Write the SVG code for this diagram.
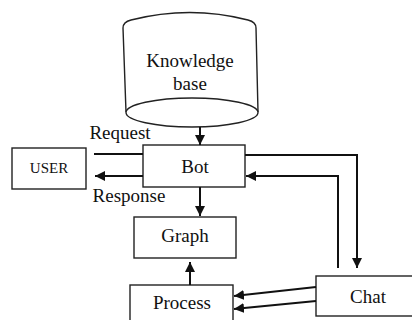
<svg xmlns="http://www.w3.org/2000/svg" width="412" height="320" viewBox="0 0 412 320">
<style>
.box{fill:#fff;stroke:#222;stroke-width:1.4}
.lbl{font-family:'Liberation Serif','DejaVu Serif',serif;font-size:19px;fill:#111;text-anchor:middle}
.edge{fill:none;stroke:#111;stroke-width:2}
</style>
<defs>
<marker id="ah" markerUnits="userSpaceOnUse" markerWidth="10" markerHeight="10" refX="10" refY="5" orient="auto">
<path d="M0,0 L10,5 L0,10 Z" fill="#111"/>
</marker>
</defs>
<rect width="412" height="320" fill="#fff"/>
<g id="kb">
<path class="box" d="M126,112 L123,28 Q123,22 131,20 Q190,5 248,20 Q256,22 256,28 L258,112"/>
<ellipse class="box" cx="192" cy="112.5" rx="66" ry="14.5"/>
<text class="lbl" x="190" y="67" font-family="Liberation Serif, serif">Knowledge</text>
<text class="lbl" x="190" y="90" font-family="Liberation Serif, serif">base</text>
</g>
<g id="user">
<rect class="box" x="12" y="148" width="74" height="41"/>
<text class="lbl" x="49" y="173" style="font-size:15px">USER</text>
</g>
<g id="bot">
<rect class="box" x="143" y="145" width="102" height="42"/>
<text class="lbl" x="195" y="173">Bot</text>
</g>
<g id="graph">
<rect class="box" x="134" y="217" width="102" height="41"/>
<text class="lbl" x="185" y="242">Graph</text>
</g>
<g id="process">
<rect class="box" x="130" y="285" width="103" height="40"/>
<text class="lbl" x="182" y="309">Process</text>
</g>
<g id="chat">
<rect class="box" x="316" y="276" width="100" height="40"/>
<text class="lbl" x="368" y="303">Chat</text>
</g>
<g id="labels">
<text class="lbl" x="120" y="139">Request</text>
<text class="lbl" x="129" y="202">Response</text>
</g>
<g id="connectors">
<path class="edge" d="M200,127 V145" marker-end="url(#ah)"/>
<path class="edge" d="M94,154 H143"/>
<path class="edge" d="M143,176 H95" marker-end="url(#ah)"/>
<path class="edge" d="M200,187 V216" marker-end="url(#ah)"/>
<path class="edge" d="M190,285 V262" marker-end="url(#ah)"/>
<path class="edge" d="M245,155 H357 V268" marker-end="url(#ah)"/>
<path class="edge" d="M338,268 V176 H246" marker-end="url(#ah)"/>
<path class="edge" d="M316,287 L234,296" marker-end="url(#ah)"/>
<path class="edge" d="M316,301 L234,309" marker-end="url(#ah)"/>
</g>
</svg>
